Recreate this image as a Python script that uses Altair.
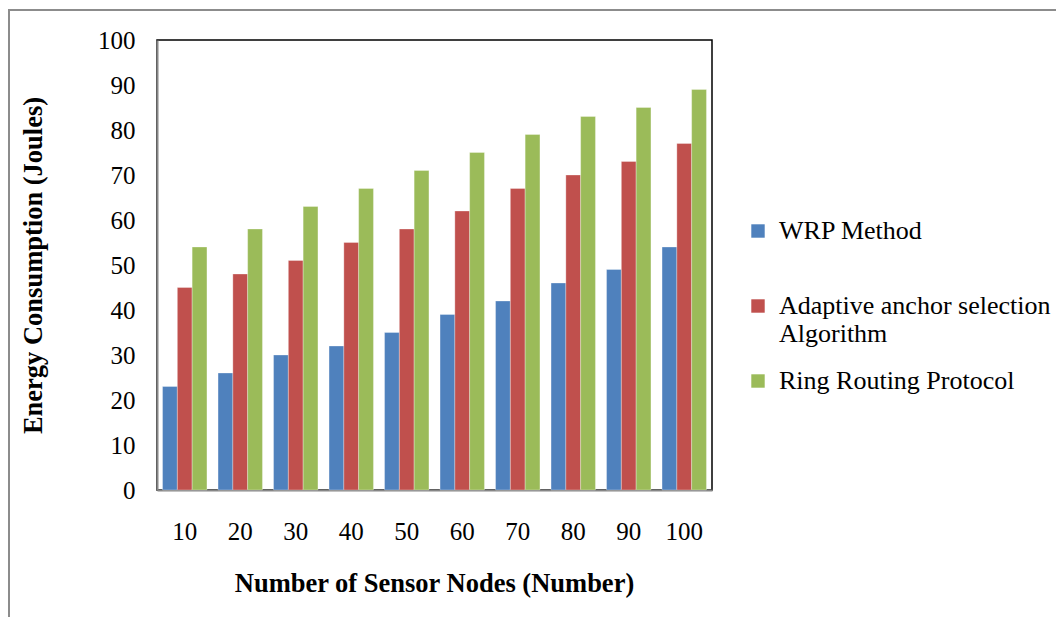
import altair as alt
import pandas as pd

nodes = ["10", "20", "30", "40", "50", "60", "70", "80", "90", "100"]
series = ["WRP Method", "Adaptive anchor selection Algorithm", "Ring Routing Protocol"]
wrp = [23, 26, 30, 32, 35, 39, 42, 46, 49, 54]
adaptive = [45, 48, 51, 55, 58, 62, 67, 70, 73, 77]
ring = [54, 58, 63, 67, 71, 75, 79, 83, 85, 89]
colors = ["#4F81BD", "#C0504D", "#9BBB59"]

rows = []
for s, vals in zip(series, [wrp, adaptive, ring]):
    for n, v in zip(nodes, vals):
        rows.append({"nodes": n, "series": s, "energy": v})
df = pd.DataFrame(rows)

FONT = "Liberation Serif"

label_expr = (
    "datum.label == 'Adaptive anchor selection Algorithm' ? ['Adaptive anchor selection', 'Algorithm'] : "
    "[datum.label, '']"
)

bars = alt.Chart(df).mark_bar(stroke="white", strokeOpacity=0.5, strokeWidth=0.6).encode(
    x=alt.X("nodes:N", sort=nodes,
            scale=alt.Scale(paddingInner=0.2, paddingOuter=0.1),
            axis=alt.Axis(title="Number of Sensor Nodes (Number)", labelAngle=0,
                          ticks=False, labelPadding=29, domainColor="#868686",
                          domainWidth=2, titleX=277, titleY=93,
                          titleBaseline="middle")),
    xOffset=alt.XOffset("series:N", sort=series),
    y=alt.Y("energy:Q", scale=alt.Scale(domain=[0, 100]),
            axis=alt.Axis(title="Energy Consumption (Joules)", values=list(range(0, 101, 10)),
                          grid=False, ticks=False, labelPadding=22, domainColor="#868686",
                          domainWidth=2, titleX=-124, titleY=225, titleBaseline="middle",
                          titleAlign="center")),
    color=alt.Color("series:N", sort=series,
                    scale=alt.Scale(domain=series, range=colors),
                    legend=alt.Legend(title=None, orient="none", legendX=588, legendY=178,
                                      symbolType="square", symbolSize=180,
                                      symbolStrokeWidth=0, labelOffset=8,
                                      rowPadding=21, labelLimit=400,
                                      labelExpr=label_expr)),
)

frame = alt.Chart(pd.DataFrame({"k": [0]})).mark_rect(
    fill=None, stroke="#8c8c8c", strokeWidth=2, clip=False
).encode(
    x=alt.value(-148), x2=alt.value(1000), y=alt.value(-30), y2=alt.value(700)
)

chart = alt.layer(frame, bars).properties(
    width=555, height=450,
    padding={"left": 149, "top": 32, "right": 344, "bottom": 127},
    autosize=alt.AutoSizeParams(type="none"),
).configure_view(
    stroke="black", strokeWidth=1.5
).configure_axis(
    labelFont=FONT, labelFontSize=25, labelColor="black",
    titleFont=FONT, titleFontSize=26.5, titleFontWeight="bold", titleColor="black",
).configure_legend(
    labelFont=FONT, labelFontSize=26, labelColor="black",
)

chart.save("out.html", embed_options={"renderer": "svg", "actions": False})
